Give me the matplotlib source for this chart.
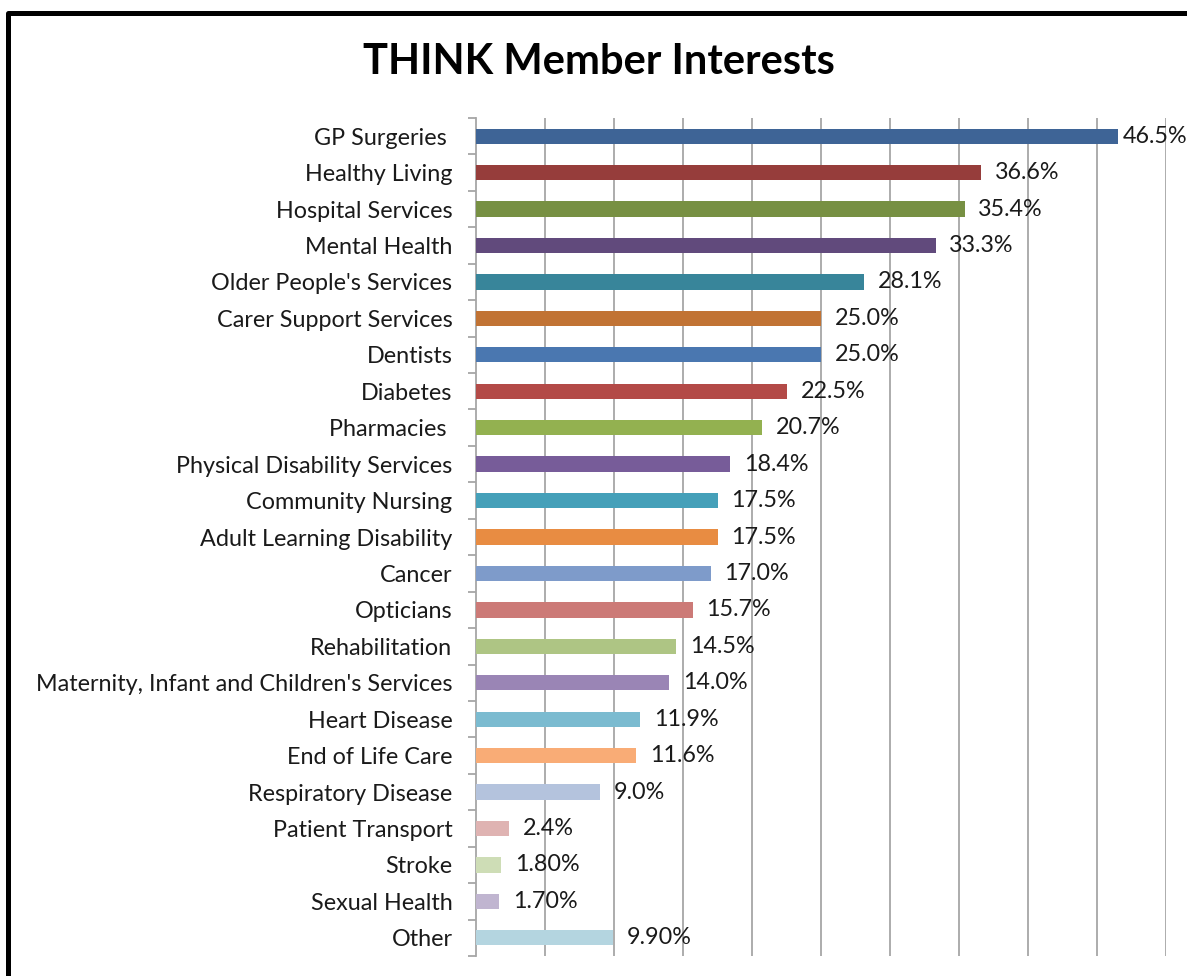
import matplotlib.pyplot as plt
from matplotlib.lines import Line2D
import numpy as np

# data
categories = ["GP Surgeries ", "Healthy Living", "Hospital Services", "Mental Health",
              "Older People's Services", "Carer Support Services", "Dentists", "Diabetes",
              "Pharmacies ", "Physical Disability Services", "Community Nursing",
              "Adult Learning Disability", "Cancer", "Opticians", "Rehabilitation",
              "Maternity, Infant and Children's Services", "Heart Disease", "End of Life Care",
              "Respiratory Disease", "Patient Transport", "Stroke", "Sexual Health", "Other"]
values = [46.5, 36.6, 35.4, 33.3, 28.1, 25.0, 25.0, 22.5, 20.7, 18.4, 17.5, 17.5, 17.0,
          15.7, 14.5, 14.0, 11.9, 11.6, 9.0, 2.4, 1.8, 1.7, 9.9]
value_labels = ["46.5%", "36.6%", "35.4%", "33.3%", "28.1%", "25.0%", "25.0%", "22.5%",
                "20.7%", "18.4%", "17.5%", "17.5%", "17.0%", "15.7%", "14.5%", "14.0%",
                "11.9%", "11.6%", "9.0%", "2.4%", "1.80%", "1.70%", "9.90%"]
colors = ["#3E6496", "#963D3B", "#779043", "#614A7C", "#38859A", "#C17334", "#4A77B0",
          "#B34A47", "#93B150", "#775C99", "#45A0B9", "#E88C42", "#7E9BCA", "#CC7A77",
          "#AEC584", "#9A85B5", "#7BBBD0", "#F9AC76", "#B4C3DD", "#DFB3B2", "#CEDDB6",
          "#C0B5D0", "#B4D5E0"]

plt.rcParams['font.family'] = ['Lato', 'DejaVu Sans']

W, H = 1187, 976
fig = plt.figure(figsize=(W / 100, H / 100), dpi=100, facecolor='w')
ax = fig.add_axes([476 / W, 1 - 956 / H, (1166 - 476) / W, (956 - 118) / H])

n = len(categories)
ypos = np.arange(n)
ax.barh(ypos, values, height=0.42, color=colors, zorder=3)
ax.set_ylim(n - 0.5, -0.5)
ax.set_xlim(0, 50)

# grid every 5%, no x labels
ax.set_xticks(np.arange(5, 51, 5))
ax.tick_params(axis='x', length=0, labelbottom=False)
ax.grid(axis='x', color='#A6A6A6', linewidth=1.3, zorder=0)

# ticks at category boundaries, labels at centres
ax.set_yticks(np.arange(-0.5, n, 1))
ax.set_yticklabels([])
ax.tick_params(axis='y', which='major', length=6, color='#A6A6A6', width=1.3)
ax.set_yticks(ypos, minor=True)
ax.set_yticklabels(categories, minor=True, fontsize=16.8, color='#1a1a1a')
ax.tick_params(axis='y', which='minor', length=0, pad=17)

for s in ['top', 'right', 'bottom']:
    ax.spines[s].set_visible(False)
ax.spines['left'].set_color('#A6A6A6')
ax.spines['left'].set_linewidth(1.3)

for y, v, lab in zip(ypos, values, value_labels):
    off = 4 if v > 45 else 10   # longest bar: label pulled in so it fits
    ax.annotate(lab, (v, y), xytext=(off, 0), textcoords='offset points',
                va='center', ha='left', fontsize=16.8, color='#1a1a1a',
                annotation_clip=False, zorder=4)

fig.text(599 / W, 1 - 62 / H, "THINK Member Interests", ha='center', va='center',
         fontsize=30, fontweight='bold', color='black')

# frame line on left and top
fig.add_artist(Line2D([7.5 / W, 7.5 / W, 1], [0, 1 - 12.5 / H, 1 - 12.5 / H],
                      color='black', linewidth=3.6, transform=fig.transFigure))

fig.savefig('out.png', dpi=100)
